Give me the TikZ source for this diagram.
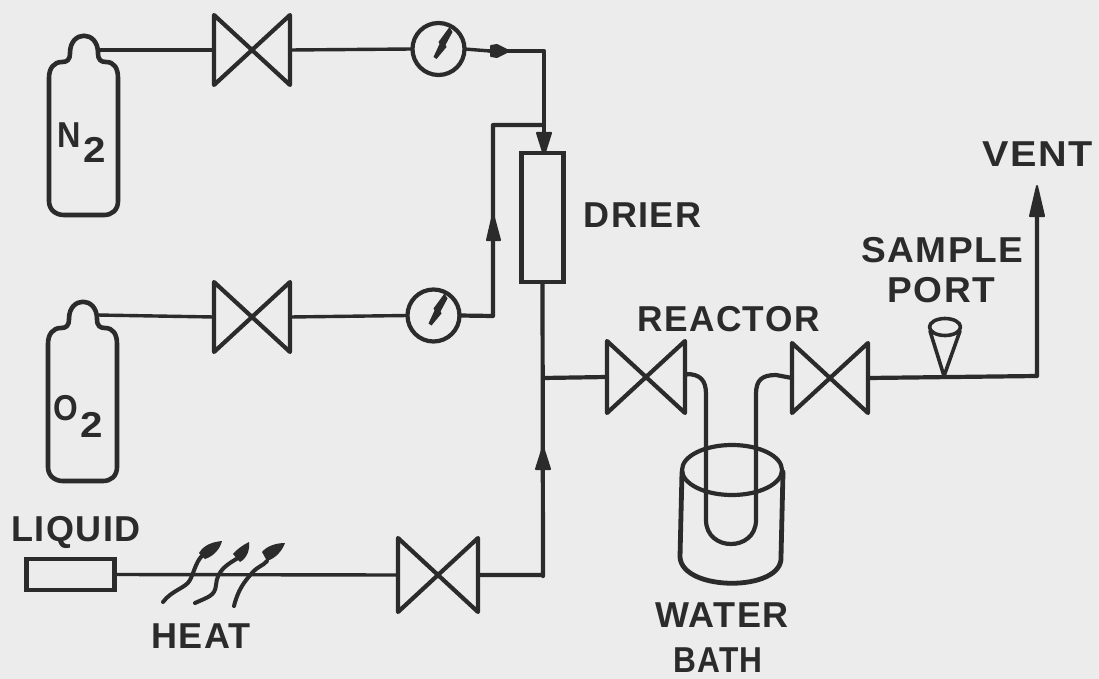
\documentclass[tikz,border=0pt]{standalone}
\usepackage{fontspec}
\setmainfont{Liberation Sans}[LetterSpace=4]
\usetikzlibrary{arrows.meta}
\definecolor{paper}{HTML}{ECECEC}
\definecolor{ink}{HTML}{2B2B2B}
\tikzset{
  pipe/.style={draw=ink,line width=4.2pt,line join=round,line cap=round},
  thinpipe/.style={draw=ink,line width=3.4pt,line join=round},
  lab/.style={text=ink,font=\fontsize{36}{38}\selectfont\bfseries,inner sep=0pt},
  gauge/.style={circle,draw=ink,line width=4.2pt,minimum size=52pt,inner sep=0pt,outer sep=0pt},
  heatline/.style={draw=ink,line width=4pt,line cap=round},
  ahead/.style={fill=ink,draw=ink,line width=2pt,line join=round},
}
\newcommand{\valve}[5]{% name, x, y, width, height
  \node[inner sep=0pt,outer sep=0pt,minimum width=#4pt,minimum height=#5pt] (#1) at (#2,#3) {};
  \draw[pipe] (#1.north west) -- (#1.south east) -- (#1.north east) -- (#1.south west) -- cycle;
}
\newcommand{\bottle}[3]{% name, neck centre x, top y
  \node[inner sep=0pt,outer sep=0pt,minimum width=28pt,minimum height=26pt] (#1) at (#2,#3+13) {};
  \draw[pipe,line width=4.6pt]
    (#2-14,#3+17) .. controls (#2-14,#3-6) and (#2+14,#3-6) .. (#2+14,#3+17)
    .. controls (#2+14,#3+24) and (#2+17,#3+26) .. (#2+22,#3+26)
    .. controls (#2+30,#3+26) and (#2+34,#3+32) .. (#2+34,#3+42)
    -- (#2+34,#3+165) .. controls (#2+34,#3+174) and (#2+28,#3+179) .. (#2+20,#3+179)
    -- (#2-20,#3+179) .. controls (#2-28,#3+179) and (#2-35,#3+174) .. (#2-35,#3+165)
    -- (#2-35,#3+42) .. controls (#2-35,#3+32) and (#2-30,#3+26) .. (#2-22,#3+26)
    .. controls (#2-17,#3+26) and (#2-14,#3+24) .. (#2-14,#3+17) -- cycle;
}
\newcommand{\needle}[2]{% gauge centre
  \fill[ink] (#1,#2) ++(-5,8) -- ++(6,-13) -- ++(-1,-2) -- ++(11,-15) -- ++(3,5) -- ++(-7,13) -- ++(1,2) -- ++(-10,12) -- cycle;
}
\begin{document}
\begin{tikzpicture}[x=1pt,y=-1pt]
\useasboundingbox (0,0) rectangle (1099,679);
\fill[paper] (0,0) rectangle (1099,679);

% cylinders
\bottle{nit}{84}{36}
\bottle{oxy}{83}{302}
\node[lab,xscale=.9] (nl) at (69,135) {N};
\node[lab,xscale=1.12] (ns) at (95,150) {2};
\node[lab,xscale=.88] (ol) at (65.5,408) {O};
\node[lab,xscale=1.12] (os) at (91.5,425) {2};

% valves
\valve{v1}{252}{50}{76}{70}
\valve{v2}{252}{317}{76}{70}
\valve{v3}{438}{575}{80}{74}
\valve{vr1}{646}{377}{78}{72}
\valve{vr2}{830}{378}{76}{70}

% gauges
\node[gauge] (g1) at (438.5,49) {};
\node[gauge] (g2) at (433.5,315.5) {};
\needle{438.5}{49}
\needle{433.5}{315.5}

% drier and liquid
\node[draw=ink,line width=4.2pt,minimum width=42pt,minimum height=129pt,inner sep=0pt,outer sep=0pt] (drier) at (542.5,217.5) {};
\node[draw=ink,line width=4.2pt,minimum width=88pt,minimum height=31pt,inner sep=0pt,outer sep=0pt] (liq) at (70.5,574.5) {};

% named points
\coordinate (j1) at (544,51);
\coordinate (j2) at (544,125);
\coordinate (j3) at (493,125);
\coordinate (j4) at (493,316);
\coordinate (j5) at (543,378);
\coordinate (j6) at (543,576);
\coordinate (vt) at (1037,376);
\coordinate (vtip) at (1037,200);
\coordinate (port) at (944,376);
\coordinate (dtop) at (544,150);

% pipes
\draw[thinpipe] (nit.east |- v1.west) -- (v1.west);
\draw[thinpipe] (v1.east) -- (g1.west);
\draw[thinpipe] (g1.east) -- (490,51);
\draw[pipe] (490,51) -- (j1) -- (dtop);
\draw[pipe] (j2) -- (j3) -- (j4) -- (g2.east);
\draw[thinpipe] (g2.west) -- (v2.east);
\draw[thinpipe] (v2.west) -- (oxy.east |- 0,315);
\draw[thinpipe] (liq.east) -- (v3.west);
\draw[pipe] (v3.east) -- (v3.east -| j6) -- (j6) -- (drier.south);
\draw[pipe] (j5) -- (vr1.west);
\draw[pipe] (vr2.east) -- (vt) -- (vtip);

% inline arrowheads
\filldraw[ahead] (509,51) -- (497,45) -- (491,46) -- (491,56) -- (497,57) -- cycle;
\filldraw[ahead] (545,152) -- (543,152) -- (537,133) -- (551,133) -- cycle;
\filldraw[ahead] (493,214) -- (487,240) -- (500,240) -- cycle;
\filldraw[ahead] (543,447) -- (536,469) -- (550,469) -- cycle;
\filldraw[ahead] (1037,186) -- (1030,216) -- (1044,216) -- cycle;

% water bath
\draw[pipe] (732,470) ellipse [x radius=50,y radius=25];
\draw[pipe,line width=4.8pt] (682,472) -- (680,557) .. controls (682,592) and (783,592) .. (781,557) -- (783,472);

% reactor tube
\draw[pipe] (vr1.east) -- (686,374) .. controls (700,374) and (706,380) .. (706,394)
  -- (706,520) .. controls (706,552) and (756,552) .. (756,520)
  -- (756,394) .. controls (756,380) and (762,375) .. (776,375) -- (vr2.west);

% sample port
\draw[pipe,line width=3.6pt] (945,327) ellipse [x radius=15.5,y radius=8.5];
\draw[pipe,line width=3.6pt] (930,331) -- (port) -- (960,331);

% heat
\draw[heatline] (163,602) .. controls (172,590) and (186,588) .. (190,580) .. controls (195,570) and (196,560) .. (205,553);
\fill[ink] (199,553) .. controls (204,545) and (212,542) .. (222,541) .. controls (220,549) and (214,556) .. (205,559) -- cycle;
\draw[heatline] (195,603) .. controls (208,597) and (215,596) .. (216,585) .. controls (217,570) and (228,564) .. (238,558);
\fill[ink] (233,554) .. controls (237,549) and (243,545) .. (249,542) .. controls (250,550) and (247,558) .. (240,562) -- cycle;
\draw[heatline] (234,606) .. controls (238,590) and (244,582) .. (252,573) .. controls (258,566) and (263,566) .. (267,561);
\fill[ink] (262,552) .. controls (267,546) and (276,543) .. (285,543) .. controls (282,551) and (276,558) .. (267,561) -- cycle;

% labels
\node[lab] (tdrier) at (642.5,215) {DRIER};
\node[lab,xscale=1.1] (tvent) at (1037.5,154) {VENT};
\node[lab,xscale=1.03] (tsample) at (942.5,250) {SAMPLE};
\node[lab,xscale=1.03] (tport) at (941.5,290) {PORT};
\node[lab,xscale=.98] (treactor) at (728.5,319) {REACTOR};
\node[lab,xscale=1] (twater) at (722,615) {WATER};
\node[lab,xscale=.88] (tbath) at (718,660) {BATH};
\node[lab] (tliq) at (76,532) {LIQUID};
\node[lab] (theat) at (201,636) {HEAT};
\end{tikzpicture}
\end{document}
